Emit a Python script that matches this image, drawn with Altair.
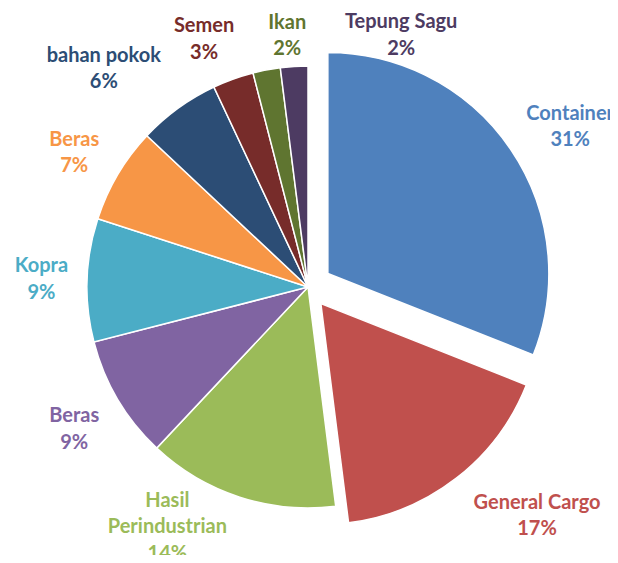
import altair as alt
import pandas as pd

# ---- data ----
ids = ["container", "general_cargo", "hasil", "beras_1", "kopra", "beras_2",
       "bahan_pokok", "semen", "ikan", "tepung_sagu"]
names = ["Container", "General Cargo", "Hasil\nPerindustrian", "Beras", "Kopra",
         "Beras", "bahan pokok", "Semen", "Ikan", "Tepung Sagu"]
values = [31, 17, 14, 9, 9, 7, 6, 3, 2, 2]

# ---- styling / layout ----
colors = ["#4F81BD", "#C0504D", "#9BBB59", "#8064A2", "#4BACC6", "#F79646",
          "#2C4D75", "#772C2A", "#5F7530", "#4D3B62"]
explode_px = [24, 21, 0, 0, 0, 0, 0, 0, 0, 0]
# label anchor (first-line baseline): distance from slice centre and angular nudge
label_radius = [287, 298, 261, 270, 267, 273, 304, 275, 259, 275]
label_shift_deg = [1.8, -8.7, 14.6, 0.6, 1.4, 0.5, -6.2, -2.4, 6.2, 23.4]

CX, CY, R = 300, 279, 221

df = pd.DataFrame({
    "order": list(range(len(ids))),
    "id": ids,
    "name": names,
    "value": values,
    "explode": explode_px,
    "lr": label_radius,
    "ls": label_shift_deg,
})

base = (
    alt.Chart(df)
    .transform_joinaggregate(total="sum(value)")
    .transform_window(cum="sum(value)", sort=[alt.SortField("order")], frame=[None, 0])
    .transform_calculate(
        t1="(datum.cum - datum.value) / datum.total * 2 * PI",
        t2="datum.cum / datum.total * 2 * PI",
    )
    .transform_calculate(mid="(datum.t1 + datum.t2) / 2")
    .transform_calculate(
        cx=f"{CX} + datum.explode * sin(datum.mid)",
        cy=f"{CY} - datum.explode * cos(datum.mid)",
    )
    .transform_calculate(
        la="datum.mid + datum.ls * PI / 180",
    )
    .transform_calculate(
        lx="datum.cx + datum.lr * sin(datum.la)",
        ly="datum.cy - datum.lr * cos(datum.la)",
        label="datum.name + '\\n' + format(datum.value / datum.total, '.0%')",
    )
)

color = alt.Color("id:N", scale=alt.Scale(domain=ids, range=colors), legend=None)

arcs = base.mark_arc(radius=R, stroke="white", strokeWidth=1.5).encode(
    x=alt.X("cx:Q", scale=None),
    y=alt.Y("cy:Q", scale=None),
    theta=alt.Theta("t1:Q", scale=None, stack=None),
    theta2="t2:Q",
    color=color,
)

labels = base.mark_text(
    font="Lato", fontSize=20, fontWeight="bold", lineBreak="\n", lineHeight=26.5,
    align="center", baseline="alphabetic",
).encode(
    x=alt.X("lx:Q", scale=None),
    y=alt.Y("ly:Q", scale=None),
    text="label:N",
    color=color,
)

chart = (
    alt.layer(arcs, labels)
    .properties(width=602, height=547, autosize=alt.AutoSizeParams(type="none"), padding=0)
    .configure_view(stroke=None)
)

chart.save("out.html", embed_options={"renderer": "svg", "actions": False})
